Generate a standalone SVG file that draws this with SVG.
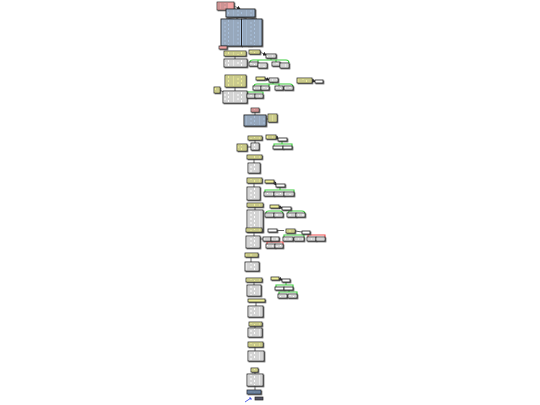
<svg xmlns="http://www.w3.org/2000/svg" width="540" height="405" viewBox="0 0 540 405">
<defs>
<pattern id="tx" width="13" height="4" patternUnits="userSpaceOnUse"><rect x="0" y="0.7" width="7" height="0.6" fill="#707070"/><rect x="8" y="0.7" width="4.5" height="0.6" fill="#707070"/><rect x="0" y="2.7" width="3.5" height="0.6" fill="#707070"/><rect x="4.5" y="2.7" width="8" height="0.6" fill="#707070"/></pattern>
<filter id="sh" x="-20%" y="-20%" width="150%" height="160%"><feDropShadow dx="0.9" dy="0.9" stdDeviation="0.4" flood-color="#444" flood-opacity="0.85"/></filter>
<marker id="ar" markerWidth="4" markerHeight="4" refX="3" refY="2" orient="auto" markerUnits="userSpaceOnUse"><path d="M0,0 L4,2 L0,4 z" fill="#222"/></marker>
</defs>
<style>
rect.p{fill:#f4a3a3;stroke:#333;stroke-width:0.7;filter:url(#sh)}
rect.b{fill:#a8c0dc;stroke:#222;stroke-width:0.9;filter:url(#sh)}
rect.y{fill:#f1f19a;stroke:#222;stroke-width:0.7;filter:url(#sh)}
rect.w{fill:#ffffff;stroke:#222;stroke-width:0.8;filter:url(#sh)}
rect.d{fill:#6d8bb0;stroke:#222;stroke-width:0.7;filter:url(#sh)}
rect.k{fill:#556;stroke:#222;stroke-width:0.7}
rect.t{fill:url(#tx)}
.c{fill:none;stroke:#222;stroke-width:0.7}
.g{fill:none;stroke:#3ccc3c;stroke-width:1.1}
.r{fill:none;stroke:#f04a4a;stroke-width:1.1}
.a{fill:none;stroke:#222;stroke-width:0.6;marker-end:url(#ar)}
</style>
<g id="connectors">
<path class="a" d="M234,6 L240,9"/>
<path class="c" d="M240,17 L226,19 M240,17 L236,19 M240,17 L247,19 M240,17 L257,19"/>
<path d="M221,45.5 L233,45.5" stroke="#2a3be0" stroke-width="0.8"/>
<path d="M248,47 L253,47" stroke="#aaa" stroke-width="0.6"/>
<path class="c" d="M235,56 L235,59"/>
<path class="a" d="M260,52 L266,55"/>
<path class="g" d="M271,58 L271,60 M250,62 Q250,60 253,60 L286,60 Q289,60 289,63 M258,62 L258,60 M276,62 L276,60"/>
<path class="c" d="M235,87 L235,91 M220,90 L223,92"/>
<path class="g" d="M247,94 L247,92 L263,92 L263,94"/>
<path class="a" d="M265,78.5 L269,80"/>
<path class="g" d="M273,82 L273,84 M254,86 Q254,84 257,84 L290,84 Q293,84 293,87 M269,86 L269,84 M279,86 L279,84"/>
<path class="a" d="M312,80.5 L315,81.5"/>
<path class="c" d="M255,112 L255,115 M266,119 L268,119"/>
<path class="c" d="M255,140 L255,143 M247,147 L251,147"/>
<path class="a" d="M276,137 L278,139"/>
<path class="g" d="M282,141 L282,144 M274,146 L274,144 L292,144 L292,147"/>
<path class="c" d="M254,159 L254,163 M254,183 L254,187 M255,207 L255,210 M254,232 L254,236"/>
<path class="a" d="M274,182 L276,185"/>
<path class="g" d="M280,187 L280,190 M265,192 L265,190 L294,190 L294,193"/>
<path class="a" d="M279,207 L282,208"/>
<path class="g" d="M286,210 L286,211 M266,213 Q266,211 269,211 L280,211 Q283,211 283,214 M288,213 Q288,211 291,211 L302,211 Q305,211 305,214"/>
<path class="c" d="M277,230.5 L284,230.5 M295,231 L302,232"/>
<path class="c" d="M260,239 L263,239"/>
<path class="g" d="M284,237 L284,235 L304,235 L304,238"/>
<path class="r" d="M308,237 L308,235 L325,235 L325,238"/>
<path class="r" d="M279,241 L279,242 M267,244 L267,242 L283,242 L283,245"/>
<path class="c" d="M251,257 L251,262 M254,282 L254,285 M256,302 L256,306 M255,326 L255,328 M255,347 L255,351 M255,372 L255,374 M255,386 L255,390"/>
<path class="a" d="M279,278.5 L282,280"/>
<path class="g" d="M286,282 L286,285 M276,287 L276,285 L293,285 L293,288"/>
<path class="g" d="M289,290 L289,292 M279,294 L279,292 L297,292 L297,295"/>
<path d="M245,402 L251,398 M249,398 L251,398 L251,400" stroke="#2a3be0" stroke-width="0.8" fill="none"/>
</g>
<g id="n1"><rect class="p" x="217" y="2" width="17" height="8"/><rect class="t" x="218" y="3" width="10" height="6"/></g>
<g id="n2"><rect class="b" x="226" y="9" width="29" height="8"/><rect class="t" x="227.5" y="10" width="26" height="6"/></g>
<g id="n3"><rect class="b" x="221" y="19" width="20.5" height="27"/><rect class="t" x="222.5" y="20" width="17.5" height="25"/></g>
<g id="n4"><rect class="b" x="241.5" y="19" width="20.5" height="27"/><rect class="t" x="243" y="20" width="17.5" height="25"/></g>
<g id="n5"><rect class="p" x="219" y="46" width="8" height="3"/></g>
<g id="n6"><rect class="y" x="224" y="51" width="22" height="5"/><rect class="t" x="225" y="52" width="20" height="3"/></g>
<g id="n7"><rect class="w" x="224" y="59" width="23" height="8"/><rect class="t" x="225" y="60" width="21" height="6"/></g>
<g id="n8"><rect class="y" x="249" y="50" width="11" height="4"/><rect class="t" x="250" y="51" width="9" height="2"/></g>
<g id="n9"><rect class="w" x="266" y="54" width="10" height="4"/><rect class="t" x="267" y="55" width="8" height="2"/></g>
<g id="n10"><rect class="w" x="249" y="62" width="9" height="4"/><rect class="t" x="250" y="63" width="7" height="2"/></g>
<g id="n11"><rect class="w" x="258" y="63" width="9" height="5"/><rect class="t" x="259" y="64" width="7" height="3"/></g>
<g id="n12"><rect class="w" x="272" y="62" width="8" height="4"/><rect class="t" x="273" y="63" width="6" height="2"/></g>
<g id="n13"><rect class="w" x="280" y="63" width="9" height="5"/><rect class="t" x="281" y="64" width="7" height="3"/></g>
<g id="n14"><rect class="y" x="225" y="75" width="21" height="12"/><rect class="t" x="226" y="76" width="19" height="10"/></g>
<g id="n15"><rect class="y" x="214" y="87" width="6" height="6"/><rect class="t" x="215" y="88" width="4" height="4"/></g>
<g id="n16"><rect class="w" x="223" y="91" width="24" height="12"/><rect class="t" x="224" y="92" width="22" height="10"/></g>
<g id="n17"><rect class="w" x="247" y="94" width="8" height="4"/><rect class="t" x="248" y="95" width="6" height="2"/></g>
<g id="n18"><rect class="w" x="255" y="94" width="8" height="4"/><rect class="t" x="256" y="95" width="6" height="2"/></g>
<g id="n19"><rect class="y" x="256" y="77" width="9" height="3"/></g>
<g id="n20"><rect class="w" x="269" y="78" width="9" height="4"/><rect class="t" x="270" y="79" width="7" height="2"/></g>
<g id="n21"><rect class="w" x="253" y="86" width="8" height="4"/><rect class="t" x="254" y="87" width="6" height="2"/></g>
<g id="n22"><rect class="w" x="261" y="86" width="8" height="4"/><rect class="t" x="262" y="87" width="6" height="2"/></g>
<g id="n23"><rect class="w" x="275" y="86" width="8" height="4"/><rect class="t" x="276" y="87" width="6" height="2"/></g>
<g id="n24"><rect class="w" x="284" y="86" width="9" height="4"/><rect class="t" x="285" y="87" width="7" height="2"/></g>
<g id="n25"><rect class="y" x="297" y="78" width="15" height="5"/><rect class="t" x="298" y="79" width="13" height="3"/></g>
<g id="n26"><rect class="w" x="315" y="80" width="8" height="3"/></g>
<g id="n27"><rect class="p" x="251" y="108" width="8" height="4"/><rect class="t" x="252" y="109" width="6" height="2"/></g>
<g id="n28"><rect class="b" x="244" y="115" width="22" height="11"/><rect class="t" x="245" y="116" width="20" height="9"/></g>
<g id="n29"><rect class="y" x="268" y="114" width="9" height="8"/><rect class="t" x="269" y="115" width="7" height="6"/></g>
<g id="n30"><rect class="y" x="248" y="136" width="14" height="4"/><rect class="t" x="249" y="137" width="12" height="2"/></g>
<g id="n31"><rect class="w" x="251" y="143" width="8" height="7"/><rect class="t" x="252" y="144" width="6" height="5"/></g>
<g id="n32"><rect class="y" x="237" y="144" width="10" height="7"/><rect class="t" x="238" y="145" width="8" height="5"/></g>
<g id="n33"><rect class="y" x="266" y="135" width="10" height="4"/><rect class="t" x="267" y="136" width="8" height="2"/></g>
<g id="n34"><rect class="w" x="278" y="138" width="9" height="3"/></g>
<g id="n35"><rect class="w" x="273" y="146" width="10" height="3"/></g>
<g id="n36"><rect class="w" x="283" y="146" width="9" height="3"/></g>
<g id="n37"><rect class="y" x="247" y="155" width="15" height="4"/><rect class="t" x="248" y="156" width="13" height="2"/></g>
<g id="n38"><rect class="w" x="248" y="163" width="12" height="10"/><rect class="t" x="249" y="164" width="10" height="8"/></g>
<g id="n39"><rect class="y" x="247" y="178" width="15" height="5"/><rect class="t" x="248" y="179" width="13" height="3"/></g>
<g id="n40"><rect class="w" x="247" y="187" width="13" height="13"/><rect class="t" x="248" y="188" width="11" height="11"/></g>
<g id="n41"><rect class="y" x="265" y="180" width="9" height="3"/></g>
<g id="n42"><rect class="w" x="276" y="184" width="9" height="3"/></g>
<g id="n43"><rect class="w" x="264" y="192" width="10" height="4"/><rect class="t" x="265" y="193" width="8" height="2"/></g>
<g id="n44"><rect class="w" x="274" y="192" width="10" height="4"/><rect class="t" x="275" y="193" width="8" height="2"/></g>
<g id="n45"><rect class="w" x="284" y="192" width="10" height="4"/><rect class="t" x="285" y="193" width="8" height="2"/></g>
<g id="n46"><rect class="y" x="247" y="203" width="16" height="4"/><rect class="t" x="248" y="204" width="14" height="2"/></g>
<g id="n47"><rect class="w" x="247" y="210" width="16" height="22"/><rect class="t" x="248" y="211" width="14" height="20"/></g>
<g id="n48"><rect class="y" x="270" y="205" width="9" height="3"/></g>
<g id="n49"><rect class="w" x="282" y="207" width="9" height="3"/></g>
<g id="n50"><rect class="w" x="265" y="213" width="9" height="4"/><rect class="t" x="266" y="214" width="7" height="2"/></g>
<g id="n51"><rect class="w" x="274" y="213" width="9" height="4"/><rect class="t" x="275" y="214" width="7" height="2"/></g>
<g id="n52"><rect class="w" x="287" y="213" width="9" height="4"/><rect class="t" x="288" y="214" width="7" height="2"/></g>
<g id="n53"><rect class="w" x="296" y="213" width="9" height="4"/><rect class="t" x="297" y="214" width="7" height="2"/></g>
<g id="n54"><rect class="y" x="246" y="228" width="16" height="4"/><rect class="t" x="247" y="229" width="14" height="2"/></g>
<g id="n55"><rect class="w" x="246" y="236" width="14" height="12"/><rect class="t" x="247" y="237" width="12" height="10"/></g>
<g id="n56"><rect class="w" x="268" y="229" width="9" height="3"/></g>
<g id="n57"><rect class="y" x="286" y="229" width="9" height="4"/><rect class="t" x="287" y="230" width="7" height="2"/></g>
<g id="n58"><rect class="w" x="302" y="231" width="8" height="3"/></g>
<g id="n59"><rect class="w" x="263" y="237" width="8" height="4"/><rect class="t" x="264" y="238" width="6" height="2"/></g>
<g id="n60"><rect class="w" x="271" y="237" width="8" height="4"/><rect class="t" x="272" y="238" width="6" height="2"/></g>
<g id="n61"><rect class="w" x="283" y="237" width="10" height="4"/><rect class="t" x="284" y="238" width="8" height="2"/></g>
<g id="n62"><rect class="w" x="294" y="237" width="10" height="4"/><rect class="t" x="295" y="238" width="8" height="2"/></g>
<g id="n63"><rect class="w" x="307" y="237" width="9" height="4"/><rect class="t" x="308" y="238" width="7" height="2"/></g>
<g id="n64"><rect class="w" x="316" y="237" width="9" height="4"/><rect class="t" x="317" y="238" width="7" height="2"/></g>
<g id="n65"><rect class="w" x="266" y="244" width="9" height="4"/><rect class="t" x="267" y="245" width="7" height="2"/></g>
<g id="n66"><rect class="w" x="275" y="244" width="8" height="4"/><rect class="t" x="276" y="245" width="6" height="2"/></g>
<g id="n67"><rect class="y" x="245" y="253" width="13" height="4"/><rect class="t" x="246" y="254" width="11" height="2"/></g>
<g id="n68"><rect class="w" x="245" y="262" width="14" height="9"/><rect class="t" x="246" y="263" width="12" height="7"/></g>
<g id="n69"><rect class="y" x="246" y="278" width="16" height="4"/><rect class="t" x="247" y="279" width="14" height="2"/></g>
<g id="n70"><rect class="w" x="247" y="285" width="14" height="11"/><rect class="t" x="248" y="286" width="12" height="9"/></g>
<g id="n71"><rect class="y" x="271" y="277" width="8" height="3"/></g>
<g id="n72"><rect class="w" x="282" y="279" width="8" height="3"/></g>
<g id="n73"><rect class="w" x="275" y="287" width="9" height="3"/></g>
<g id="n74"><rect class="w" x="284" y="287" width="9" height="3"/></g>
<g id="n75"><rect class="w" x="278" y="294" width="9" height="4"/><rect class="t" x="279" y="295" width="7" height="2"/></g>
<g id="n76"><rect class="w" x="288" y="294" width="9" height="4"/><rect class="t" x="289" y="295" width="7" height="2"/></g>
<g id="n77"><rect class="y" x="248" y="299" width="17" height="3"/></g>
<g id="n78"><rect class="w" x="248" y="306" width="15" height="11"/><rect class="t" x="249" y="307" width="13" height="9"/></g>
<g id="n79"><rect class="y" x="249" y="322" width="13" height="4"/><rect class="t" x="250" y="323" width="11" height="2"/></g>
<g id="n80"><rect class="w" x="248" y="328" width="14" height="9"/><rect class="t" x="249" y="329" width="12" height="7"/></g>
<g id="n81"><rect class="y" x="248" y="342" width="15" height="5"/><rect class="t" x="249" y="343" width="13" height="3"/></g>
<g id="n82"><rect class="w" x="248" y="351" width="16" height="10"/><rect class="t" x="249" y="352" width="14" height="8"/></g>
<g id="n83"><rect class="y" x="251" y="368" width="7" height="4"/><rect class="t" x="252" y="369" width="5" height="2"/></g>
<g id="n84"><rect class="w" x="247" y="374" width="16" height="12"/><rect class="t" x="248" y="375" width="14" height="10"/></g>
<g id="n85"><rect class="d" x="247" y="390" width="14" height="4"/><rect class="t" x="248" y="391" width="12" height="2"/></g>
<g id="n86"><rect class="k" x="255" y="397" width="8" height="3"/></g>
</svg>
